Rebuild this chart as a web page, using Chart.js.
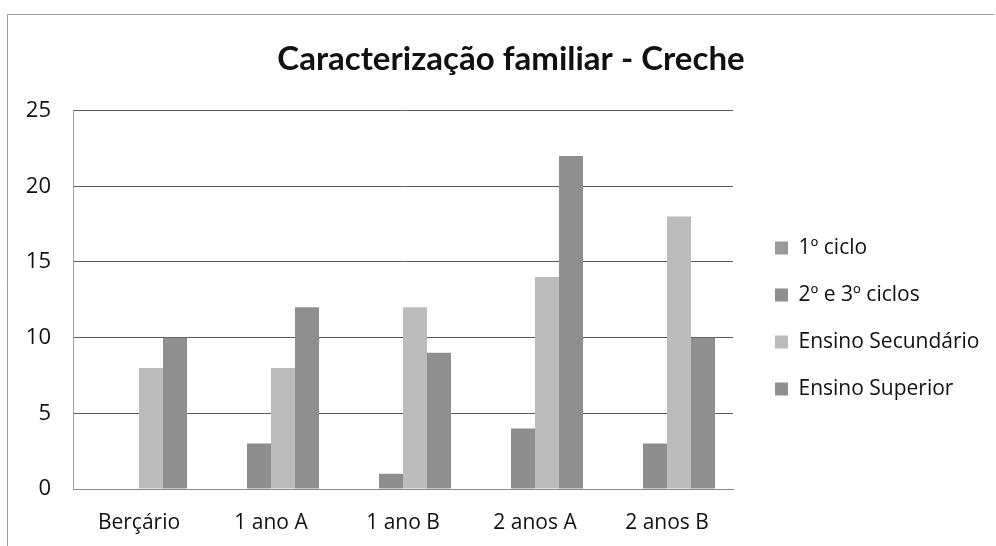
<!DOCTYPE html>
<html>
<head>
<meta charset="utf-8">
<script src="https://cdn.jsdelivr.net/npm/chart.js@4.4.1/dist/chart.umd.min.js"></script>
<style>
  html, body { margin: 0; padding: 0; background: #ffffff; }
  #wrap { width: 996px; height: 546px; position: relative; }
</style>
</head>
<body>
<div id="wrap"><canvas id="c" width="996" height="546"></canvas></div>
<script>
const categories = ["Berçário", "1 ano A", "1 ano B", "2 anos A", "2 anos B"];
const ciclo1 = [0, 0, 0, 0, 0];
const ciclos23 = [0, 3, 1, 4, 3];
const secundario = [8, 8, 12, 14, 18];
const superior = [10, 12, 9, 22, 10];
const seriesNames = ["1º ciclo", "2º e 3º ciclos", "Ensino Secundário", "Ensino Superior"];
const yTicks = [0, 5, 10, 15, 20, 25];
const chartTitle = "Caracterização familiar - Creche";

const colors = ["#9a9a9a", "#8e8e8e", "#bcbcbc", "#8f8f8f"];
const FONT = "'Open Sans', Lato, sans-serif";
const TITLE_FONT = "Lato, 'Open Sans', sans-serif";

const frame = {
  id: 'frame',
  beforeDraw(chart) {
    const ctx = chart.ctx;
    ctx.save();
    ctx.fillStyle = '#ffffff';
    ctx.fillRect(0, 0, chart.width, chart.height);
    ctx.strokeStyle = '#9a9a9a';
    ctx.lineWidth = 1;
    ctx.beginPath();
    ctx.moveTo(7.5, 560);
    ctx.lineTo(7.5, 14.5);
    ctx.lineTo(994, 14.5);
    ctx.stroke();
    ctx.restore();
  }
};

const legendShift = {
  id: 'legendShift',
  beforeLayout(chart) {
    const lg = chart.legend;
    const o = chart.options.plugins.legendShift;
    if (lg && !lg._fixedWidth) {
      const orig = lg.fit.bind(lg);
      lg.fit = function () { orig(); this.width = o.width; };
      lg._fixedWidth = true;
    }
  },
  afterLayout(chart) {
    const lg = chart.legend;
    const o = chart.options.plugins.legendShift;
    lg.left += o.dx; lg.right += o.dx;
    lg.top += o.dy; lg.bottom += o.dy;
  }
};

new Chart(document.getElementById('c'), {
  type: 'bar',
  data: {
    labels: categories,
    datasets: [
      { label: seriesNames[0], data: ciclo1, backgroundColor: colors[0] },
      { label: seriesNames[1], data: ciclos23, backgroundColor: colors[1] },
      { label: seriesNames[2], data: secundario, backgroundColor: colors[2] },
      { label: seriesNames[3], data: superior, backgroundColor: colors[3] }
    ]
  },
  plugins: [frame, legendShift],
  options: {
    responsive: false,
    animation: false,
    devicePixelRatio: 1,
    layout: { padding: { left: 26, right: 0, top: 20, bottom: 9 } },
    datasets: { bar: { categoryPercentage: 4 / 5.5, barPercentage: 1.0, borderWidth: 0 } },
    scales: {
      x: {
        grid: { display: false, drawTicks: false },
        border: { display: true, color: '#8a8a8a', width: 1 },
        ticks: { color: '#111', font: { family: FONT, size: 21 }, padding: 21 },
        afterFit(s) { s.height = 48; }
      },
      y: {
        min: 0, max: 25,
        afterBuildTicks(scale) { scale.ticks = yTicks.map(v => ({ value: v })); },
        grid: { color: '#5a5a5a', lineWidth: 1, drawTicks: false },
        border: { display: true, color: '#a0a0a0', width: 1 },
        ticks: { color: '#111', font: { family: FONT, size: 22 }, padding: 22 },
        afterFit(s) { s.width = 47; }
      }
    },
    plugins: {
      legendShift: { width: 263, dx: 16, dy: 40 },
      title: {
        display: true,
        text: chartTitle,
        color: '#111',
        font: { family: TITLE_FONT, size: 33, weight: 'bold' },
        padding: { top: 20, bottom: 31 }
      },
      legend: {
        display: true,
        position: 'right',
        align: 'center',
        labels: {
          color: '#111',
          font: { family: FONT, size: 21 },
          boxWidth: 13,
          boxHeight: 13,
          padding: 26
        }
      },
      tooltip: { enabled: false }
    }
  }
});
</script>
</body>
</html>
